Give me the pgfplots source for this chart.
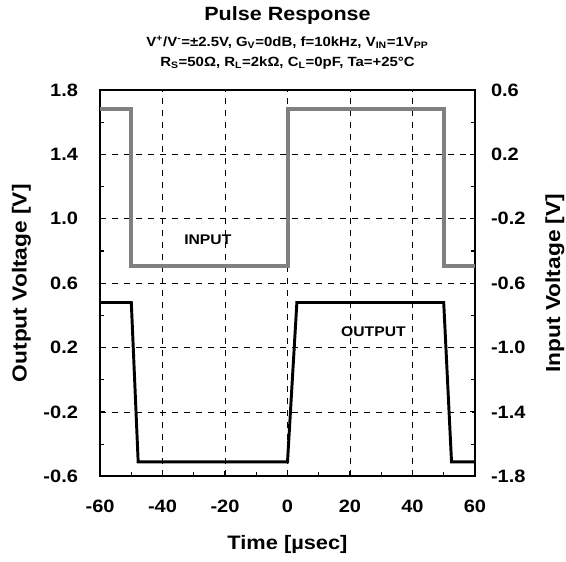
\documentclass[border=0pt]{standalone}
\usepackage{pgfplots}
\pgfplotsset{compat=1.18}
\usepackage{fontspec}
\setmainfont[FakeStretch=1.12]{Liberation Sans}
\begin{document}
\begin{tikzpicture}
\pgfplotsset{
  common/.style={
    scale only axis, width=281pt, height=289.5pt,
    xmin=-60, xmax=60,
    tick align=inside,
    major tick length=4pt, minor tick length=3pt,
    every tick/.style={black, line width=0.8pt},
    axis line style={line width=1.8pt},
    /pgf/number format/assume math mode=true,
    ticklabel style={font=\bfseries\fontsize{13.4}{15}\selectfont},
  }
}
\begin{axis}[common, name=ax,
  ymin=-0.6, ymax=1.8,
  xtick={-60,-40,...,60}, minor xtick={-50,-30,...,50},
  ytick={-0.6,-0.2,...,1.81}, minor ytick={-0.4,0,...,1.61},
  yticklabel style={xshift=-13pt, /pgf/number format/.cd, fixed, fixed zerofill, precision=1},
  xticklabel style={yshift=-14pt},
  xtick pos=bottom, ytick pos=left,
  grid=major, major grid style={black, line width=0.6pt, dash pattern=on 4.5pt off 4.5pt},
  clip=true,
]
\addplot[black, line width=2.2pt, line join=miter] coordinates {
 (-60,0.48) (-50,0.48) (-47.8,-0.51) (0,-0.51) (3,0.48) (50,0.48) (52.5,-0.51) (60,-0.51)};
\node[font=\bfseries\fontsize{10.5}{12}\selectfont] at (axis cs:-25.5,0.87) {INPUT};
\node[font=\bfseries\fontsize{10.5}{12}\selectfont] at (axis cs:27.5,0.30) {OUTPUT};
\end{axis}
\begin{axis}[common,
  ymin=-1.8, ymax=0.6,
  axis x line=none, axis y line*=right,
  ytick={-1.8,-1.4,...,0.61}, minor ytick={-1.6,-1.2,...,0.41},
  yticklabel style={xshift=8.5pt, /pgf/number format/.cd, fixed, fixed zerofill, precision=1},
  clip=true,
]
\addplot[black!50, line width=3pt, line join=miter] coordinates {
 (-60,0.485) (-50,0.485) (-50,-0.495) (0,-0.495) (0,0.485) (50,0.485) (50,-0.495) (60,-0.495)};
\end{axis}
\node[font=\bfseries\fontsize{14.6}{17}\selectfont] at ([yshift=-51pt]ax.south) {Time [µsec]};
\node[font=\bfseries\fontsize{15.2}{17}\selectfont, rotate=90] at ([xshift=-59pt]ax.west) {Output Voltage [V]};
\node[font=\bfseries\fontsize{15.2}{17}\selectfont, rotate=90] at ([xshift=60pt]ax.east) {Input Voltage [V]};
\node[font=\bfseries\fontsize{14.4}{17}\selectfont] at ([yshift=56pt]ax.north) {Pulse Response};
\node[font=\bfseries\fontsize{10}{12}\selectfont] at ([yshift=36pt]ax.north) {V\textsuperscript{+}/V\textsuperscript{-}=±2.5V, G\textsubscript{V}=0dB, f=10kHz, V\textsubscript{IN}=1V\textsubscript{PP}};
\node[font=\bfseries\fontsize{10}{12}\selectfont] at ([yshift=20pt]ax.north) {R\textsubscript{S}=50Ω, R\textsubscript{L}=2kΩ, C\textsubscript{L}=0pF, Ta=+25°C};
\pgfresetboundingbox
\path ([shift={(-75pt,-63.75pt)}]ax.south west) rectangle ([shift={(68.25pt,67.5pt)}]ax.north east);
\end{tikzpicture}
\end{document}
